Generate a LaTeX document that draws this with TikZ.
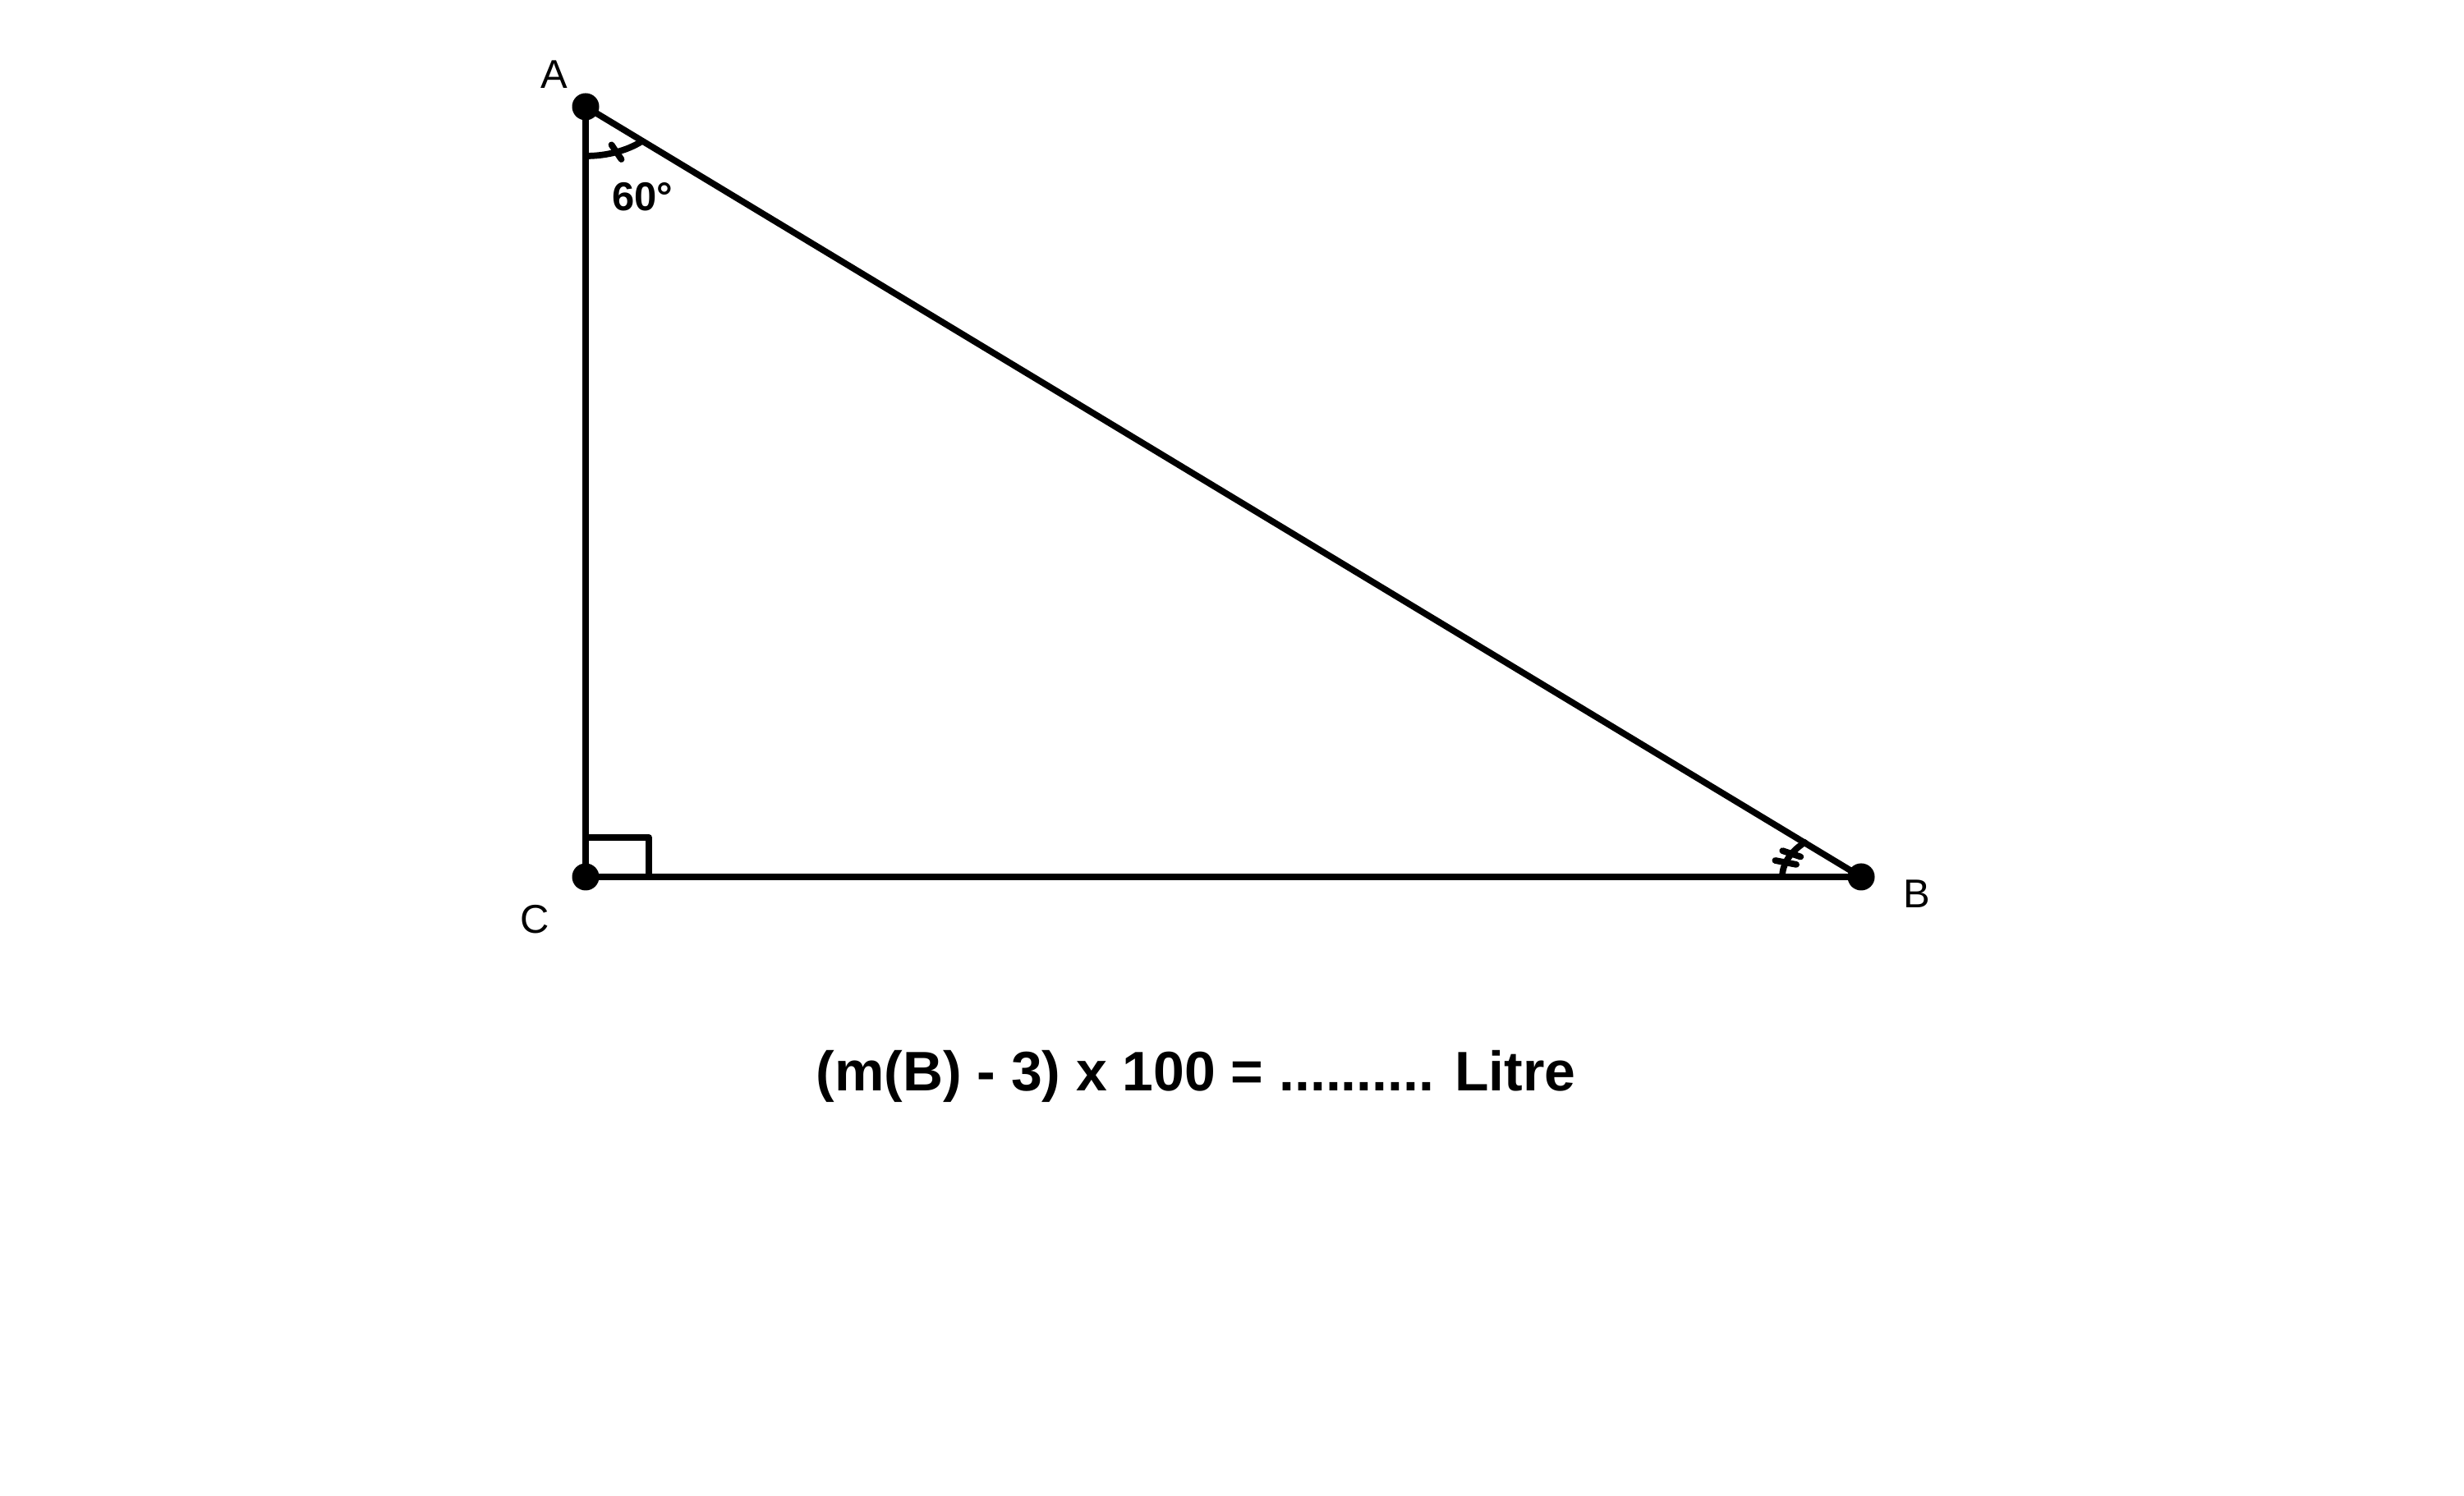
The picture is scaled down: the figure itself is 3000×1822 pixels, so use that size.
\documentclass[tikz,border=0pt]{standalone}
\usepackage{fontspec}
\setmainfont{Liberation Sans}
\usetikzlibrary{calc}
\tikzset{
  seg/.style={line width=2.2pt, line join=round, line cap=round},
  pt/.style={circle, fill=black, inner sep=0pt, minimum size=0.33cm},
  lbl/.style={anchor=base, inner sep=0pt, font=\fontsize{13.9}{16}\selectfont},
  blbl/.style={anchor=base, inner sep=0pt, font=\fontsize{13.9}{16}\selectfont\bfseries},
  eqn/.style={anchor=base, inner sep=0pt, font=\fontsize{19.3}{23}\selectfont\bfseries}
}
\begin{document}
\begin{tikzpicture}[x=0.01cm,y=0.01cm]
\useasboundingbox (0,0) rectangle (3000,1822);
\coordinate (A) at (713,1692);
\coordinate (C) at (713,754);
\coordinate (B) at (2266,754);
% sides
\draw[seg] (A) -- (C) -- (B) -- cycle;
% right angle at C
\draw[seg] (C) rectangle ($(C)+(77,48)$);
% angle arc at A
\draw[seg] ([shift={(-90:0.96cm and 0.6cm)}]A) arc[start angle=-90, end angle=-44.6, x radius=0.96cm, y radius=0.6cm];
\draw[seg] ($(A)+({0.84*96*cos(-67)},{0.84*60*sin(-67)})$) -- ($(A)+({1.16*96*cos(-67)},{1.16*60*sin(-67)})$);
% angle arc at B
\draw[seg] ([shift={(135.6:0.96cm and 0.6cm)}]B) arc[start angle=135.6, end angle=180, x radius=0.96cm, y radius=0.6cm];
\draw[seg] ($(B)+({0.87*96*cos(152)},{0.87*60*sin(152)})$) -- ($(B)+({1.13*96*cos(152)},{1.13*60*sin(152)})$);
\draw[seg] ($(B)+({0.86*96*cos(163)},{0.86*60*sin(163)})$) -- ($(B)+({1.14*96*cos(163)},{1.14*60*sin(163)})$);
% points
\node[pt] (pA) at (A) {};
\node[pt] (pC) at (C) {};
\node[pt] (pB) at (B) {};
% labels
\node[lbl] (lA) at (675,1714) {A};
\node[lbl] (lC) at (651,685) {C};
\node[lbl] (lB) at (2334,716) {B};
\node[blbl] (ang) at (782,1565) {60°};
\node[eqn] (eq) at (1456,493) {(m(B) - 3) x 100 = .......... Litre};
\end{tikzpicture}
\end{document}
